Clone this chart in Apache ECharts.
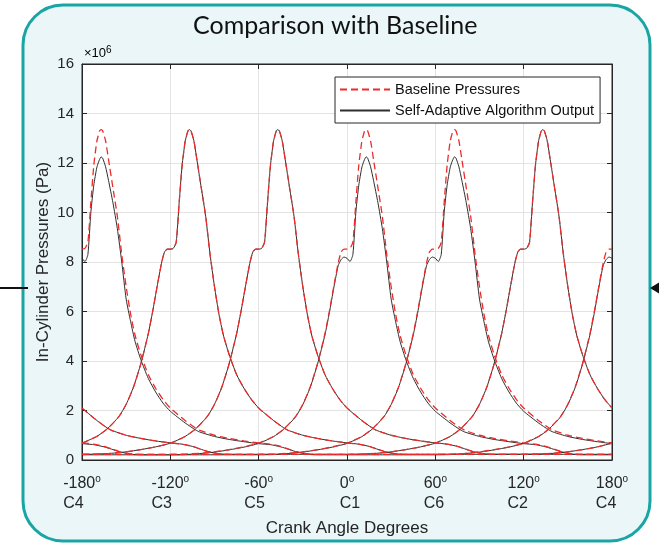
<!DOCTYPE html>
<html>
<head>
<meta charset="utf-8">
<script src="https://cdn.jsdelivr.net/npm/echarts@6/dist/echarts.min.js"></script>
<style>html,body{margin:0;padding:0;background:#fff}#c{width:659px;height:544px}</style>
</head>
<body>
<div id="c"></div>
<script>
// ---- data ----
const xTicks = [-180, -120, -60, 0, 60, 120, 180];
const xTickCyl = ['C4', 'C3', 'C5', 'C1', 'C6', 'C2', 'C4'];
const yTicks = [0, 2, 4, 6, 8, 10, 12, 14, 16];

const cylNames = ['C4', 'C3', 'C5', 'C1', 'C6', 'C2'];
const cylTDC = [-180, -120, -60, 0, 60, 120];
const adaptiveDiffers = [true, false, false, true, true, false];

// crank angle relative to each cylinder's TDC (deg)
const thetaDeg = [-180, -160, -140, -120, -110, -100, -90, -80, -70, -60, -50, -43, -35, -30, -25, -20, -15, -12, -9, -6, -4, -2, 0, 2, 4, 6, 8, 10, 11, 12, 13, 14, 16, 18, 21, 24, 27, 30, 33, 36, 40, 45, 50, 55, 60, 70, 77, 80, 90, 100, 110, 120, 128, 135, 140, 145, 150, 155, 160, 170];
// baseline pressure (x10^6 Pa)
const baselineP = [0.23, 0.23, 0.23, 0.23, 0.24, 0.27, 0.33, 0.42, 0.53, 0.68, 0.95, 1.25, 1.75, 2.25, 2.95, 3.9, 5.1, 6.0, 7.0, 7.95, 8.4, 8.52, 8.52, 8.55, 8.8, 10.4, 11.9, 12.85, 13.1, 13.3, 13.35, 13.3, 12.9, 12.15, 11.0, 9.85, 8.3, 7.0, 5.9, 5.05, 4.25, 3.45, 2.9, 2.45, 2.1, 1.6, 1.3, 1.2, 1.0, 0.87, 0.77, 0.69, 0.64, 0.55, 0.45, 0.35, 0.28, 0.24, 0.23, 0.23];
// self-adaptive output for the cylinders that differ (x10^6 Pa)
const adaptiveP = [0.21, 0.21, 0.21, 0.21, 0.22, 0.26, 0.32, 0.41, 0.52, 0.67, 0.94, 1.24, 1.74, 2.24, 2.93, 3.88, 5.05, 5.95, 6.95, 7.85, 8.1, 8.2, 8.15, 8.02, 8.3, 10.0, 11.1, 11.8, 12.0, 12.15, 12.25, 12.2, 11.85, 11.3, 10.4, 9.35, 8.0, 6.5, 5.6, 4.8, 4.05, 3.3, 2.75, 2.3, 1.97, 1.5, 1.22, 1.13, 0.95, 0.83, 0.74, 0.66, 0.62, 0.53, 0.44, 0.34, 0.27, 0.22, 0.21, 0.21];

// ---- build series ----
function cylinderCurve(tdc, pressures) {
  const pts = [];
  for (let i = 0; i < thetaDeg.length; i++) {
    let x = tdc + thetaDeg[i];
    while (x >= 180) x -= 360;
    while (x < -180) x += 360;
    pts.push([x, pressures[i]]);
    if (x === -180) pts.push([180, pressures[i]]);
  }
  pts.sort((a, b) => a[0] - b[0]);
  return pts;
}

const RED = '#ec2b2b';
const BLACK = '#2e2e2e';
const series = [];
cylNames.forEach((c, k) => {
  series.push({
    name: 'Self-Adaptive Algorithm Output', type: 'line', showSymbol: false, symbol: 'none',
    smooth: 0.2, data: cylinderCurve(cylTDC[k], adaptiveDiffers[k] ? adaptiveP : baselineP),
    lineStyle: { color: BLACK, width: 1 }, itemStyle: { color: BLACK }, z: 2, silent: true
  });
});
cylNames.forEach((c, k) => {
  series.push({
    name: 'Baseline Pressures', type: 'line', showSymbol: false, symbol: 'none',
    smooth: 0.2, data: cylinderCurve(cylTDC[k], baselineP),
    lineStyle: { color: RED, width: 1.3, type: [7, 4] }, itemStyle: { color: RED }, z: 3, silent: true
  });
});

// label widths for left-aligned two-line tick labels
const cv = document.createElement('canvas').getContext('2d');
const FF = '"Liberation Sans", Arial, sans-serif';
const XF = 16;
const rich = { n: { fontSize: XF, fontFamily: FF, color: '#262626', lineHeight: 20 },
               s: { fontSize: 10, fontFamily: FF, color: '#262626', verticalAlign: 'top', lineHeight: 20 } };
xTicks.forEach((v, i) => {
  cv.font = XF + 'px ' + FF; const w1 = cv.measureText(String(v)).width;
  cv.font = '10px ' + FF; const w2 = cv.measureText('o').width;
  rich['c' + i] = { fontSize: XF, fontFamily: FF, color: '#262626', width: w1 + w2, align: 'left', lineHeight: 20 };
});

const chart = echarts.init(document.getElementById('c'), null, { renderer: 'canvas' });
chart.setOption({
  backgroundColor: '#ffffff',
  animation: false,
  graphic: [
    { type: 'rect', z: -10, shape: { x: 23, y: 5, width: 627, height: 536, r: 40 },
      style: { fill: '#eaf6f7', stroke: '#1aa5a5', lineWidth: 3 } },
    { type: 'line', z: -10, shape: { x1: 0, y1: 288, x2: 28, y2: 288 }, style: { stroke: '#111', lineWidth: 2 } },
    { type: 'polygon', z: -10, shape: { points: [[650, 288], [660, 282], [660, 294]] }, style: { fill: '#111' } },
    { type: 'text', left: 193, top: 13, style: { text: 'Comparison with Baseline', fontFamily: 'Lato, "Open Sans", sans-serif', fontSize: 25, fill: '#111' } },
    { type: 'text', x: 84, y: 45, style: { text: '{a|×10}{b|6}', rich: { a: { fontSize: 13, fontFamily: FF, color: '#262626', lineHeight: 16 }, b: { fontSize: 10, fontFamily: FF, color: '#262626', verticalAlign: 'top', lineHeight: 16 } } } },
    { type: 'text', x: 43, y: 262, rotation: Math.PI / 2, style: { text: 'In-Cylinder Pressures (Pa)', fontFamily: FF, fontSize: 17, fill: '#262626', align: 'center', verticalAlign: 'middle' } }
  ],
  grid: { left: 82, right: 47, top: 64, bottom: 84, show: true, backgroundColor: '#ffffff', borderColor: '#262626', borderWidth: 1 },
  legend: {
    data: ['Baseline Pressures', 'Self-Adaptive Algorithm Output'],
    orient: 'vertical', left: 335, top: 77, itemWidth: 50, itemHeight: 12, itemGap: 6,
    itemStyle: { color: 'rgba(0,0,0,0)', borderColor: 'rgba(0,0,0,0)', borderWidth: 0 },
    backgroundColor: '#ffffff', borderColor: '#262626', borderWidth: 1, borderRadius: 0, padding: [5, 6, 5, 4],
    textStyle: { fontFamily: FF, fontSize: 14.5, color: '#111' }, selectedMode: false
  },
  xAxis: [{
    type: 'value', min: -180, max: 180, interval: 60,
    name: 'Crank Angle Degrees', nameLocation: 'middle', nameGap: 60,
    nameTextStyle: { fontFamily: FF, fontSize: 17, color: '#262626' },
    axisLine: { show: true, onZero: false, lineStyle: { color: '#262626' } },
    axisTick: { show: true, inside: true, length: 5, lineStyle: { color: '#262626' } },
    axisLabel: { margin: 14, formatter: v => { const i = xTicks.indexOf(v); return '{n|' + v + '}{s|o}\n{c' + i + '|' + xTickCyl[i] + '}'; }, rich: rich },
    splitLine: { show: true, lineStyle: { color: '#e3e3e3' } }
  }, {
    type: 'value', position: 'top', min: -180, max: 180, interval: 60,
    axisLine: { show: true, onZero: false, lineStyle: { color: '#262626' } },
    axisTick: { show: true, inside: true, length: 5, lineStyle: { color: '#262626' } },
    axisLabel: { show: false }, splitLine: { show: false }
  }],
  yAxis: [{
    type: 'value', min: 0, max: 16, interval: 2,
    axisLine: { show: true, onZero: false, lineStyle: { color: '#262626' } },
    axisTick: { show: true, inside: true, length: 5, lineStyle: { color: '#262626' } },
    axisLabel: { margin: 8, fontFamily: FF, fontSize: 15, color: '#262626' },
    splitLine: { show: true, lineStyle: { color: '#e3e3e3' } }
  }, {
    type: 'value', position: 'right', min: 0, max: 16, interval: 2,
    axisLine: { show: true, onZero: false, lineStyle: { color: '#262626' } },
    axisTick: { show: true, inside: true, length: 5, lineStyle: { color: '#262626' } },
    axisLabel: { show: false }, splitLine: { show: false }
  }],
  series: series
});
</script>
</body>
</html>
